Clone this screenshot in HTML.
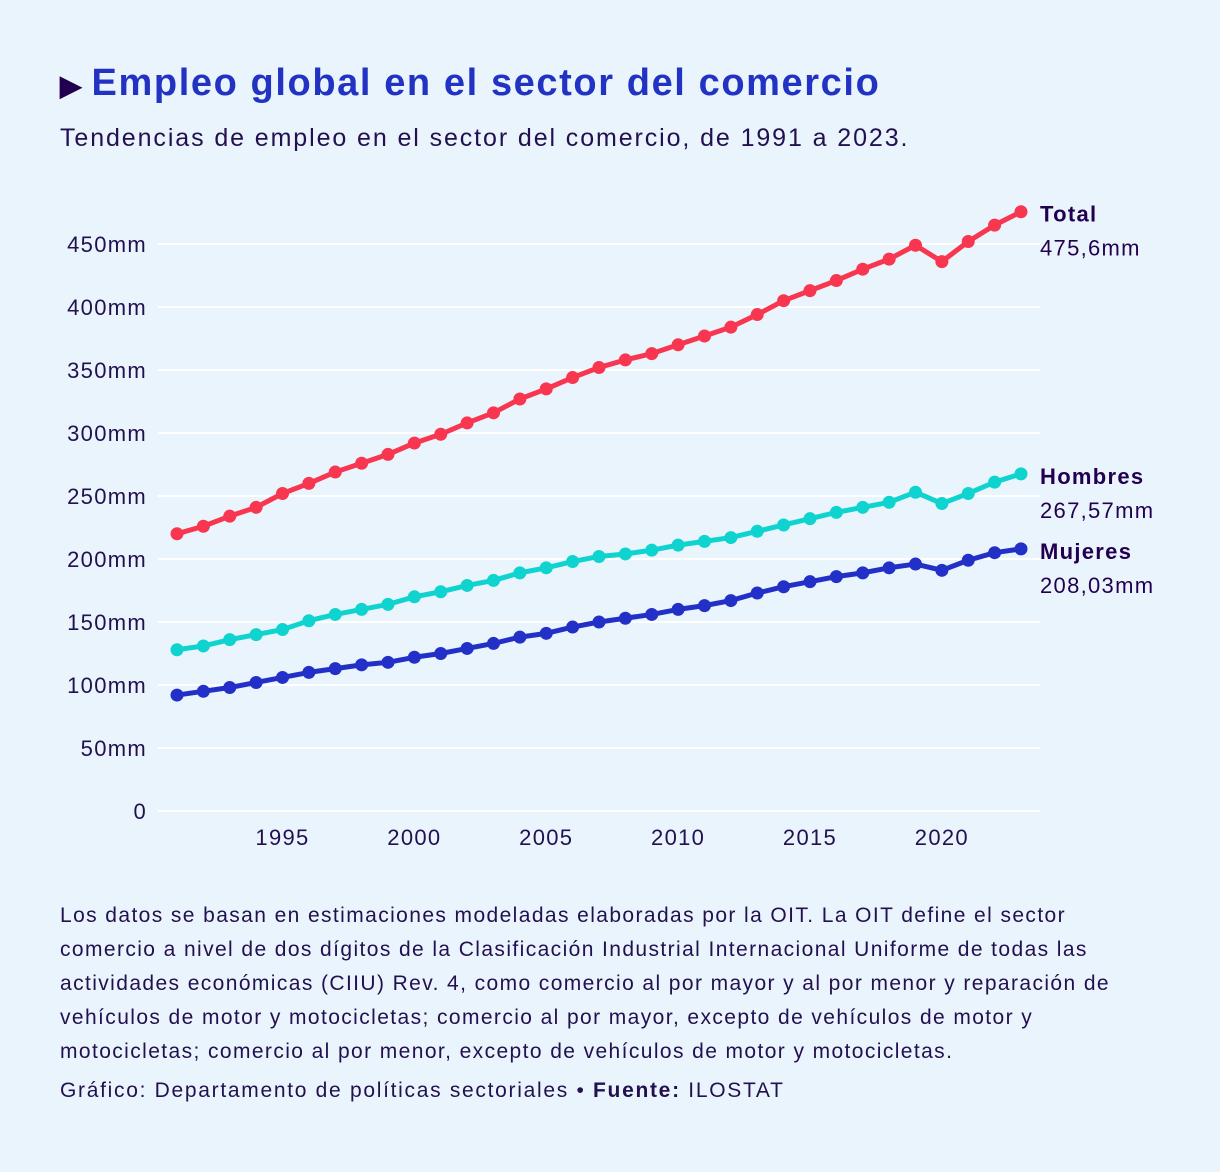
<!DOCTYPE html>
<html><head><meta charset="utf-8"><style>
body{margin:0;background:#eaf4fd;font-family:"Liberation Sans",sans-serif;color:#22104f}
#wrap{position:relative;width:1220px;height:1172px;overflow:hidden}
h1{position:absolute;left:60px;top:62px;margin:0;font-size:38px;font-weight:bold;color:#2233c4;letter-spacing:1.6px;white-space:nowrap}
h1 span{color:#22004f;font-size:28px;margin-right:10px;letter-spacing:0}
.sub{position:absolute;left:60px;top:124px;font-size:25px;letter-spacing:1.9px;white-space:nowrap}
.note{position:absolute;left:60px;top:899px;width:1085px;font-size:21px;line-height:34px;letter-spacing:1.4px}
.cred{position:absolute;left:60px;top:1079px;font-size:21px;letter-spacing:1.7px}
svg{position:absolute;left:0;top:0}
svg text{letter-spacing:1.3px}
</style></head><body><div id="wrap">
<h1><span>▶</span>Empleo global en el sector del comercio</h1>
<div class="sub">Tendencias de empleo en el sector del comercio, de 1991 a 2023.</div>
<svg id="c" width="1220" height="1172"></svg>
<div class="note">Los datos se basan en estimaciones modeladas elaboradas por la OIT. La OIT define el sector comercio a nivel de dos dígitos de la Clasificación Industrial Internacional Uniforme de todas las actividades económicas (CIIU) Rev. 4, como comercio al por mayor y al por menor y reparación de vehículos de motor y motocicletas; comercio al por mayor, excepto de vehículos de motor y motocicletas; comercio al por menor, excepto de vehículos de motor y motocicletas.</div>
<div class="cred">Gráfico: Departamento de políticas sectoriales • <b>Fuente:</b> ILOSTAT</div>
</div>
<script>
const years=[];for(let y=1991;y<=2023;y++)years.push(y);
const total=[220,226,234,241,252,260,269,276,283,292,299,308,316,327,335,344,352,358,363,370,377,384,394,405,413,421,430,438,449,436,452,465,475.6];
const hombres=[128,131,136,140,144,151,156,160,164,170,174,179,183,189,193,198,202,204,207,211,214,217,222,227,232,237,241,245,253,244,252,261,267.57];
const mujeres=[92,95,98,102,106,110,113,116,118,122,125,129,133,138,141,146,150,153,156,160,163,167,173,178,182,186,189,193,196,191,199,205,208.03];
const yTicks=[0,50,100,150,200,250,300,350,400,450];
const yTickLabels=["0","50mm","100mm","150mm","200mm","250mm","300mm","350mm","400mm","450mm"];
const xTicks=[1995,2000,2005,2010,2015,2020];
const seriesNames=["Total","Hombres","Mujeres"];
const seriesLabels=["475,6mm","267,57mm","208,03mm"];
const NS="http://www.w3.org/2000/svg",svg=document.getElementById('c');
const x=v=>177+(v-1991)*(1021-177)/32, y=v=>811-v*1.26;
function el(t,a,p){const e=document.createElementNS(NS,t);for(const k in a)e.setAttribute(k,a[k]);(p||svg).appendChild(e);return e;}
yTicks.forEach((t,i)=>{
 const g=el('line',{x1:158,x2:1040,y1:y(t),y2:y(t),stroke:'#fff','stroke-width':2});
 
 const l=el('text',{x:147,y:y(t)+8,'text-anchor':'end','font-size':22,fill:'#22104f'});l.textContent=yTickLabels[i];
 
});
xTicks.forEach(t=>{const l=el('text',{x:x(t),y:845,'text-anchor':'middle','font-size':22,fill:'#22104f'});l.textContent=t;
 });
const cols=['#f8364f','#0fd3cf','#2230c8'];
[total,hombres,mujeres].forEach((s,i)=>{
 const g=el('g',{});
 const p=el('path',{d:s.map((v,j)=>(j?'L':'M')+x(years[j])+','+y(v)).join(''),fill:'none',stroke:cols[i],'stroke-width':5,'stroke-linejoin':'round'},g);
 
 s.forEach((v,j)=>{const c=el('circle',{cx:x(years[j]),cy:y(v),r:6.5,fill:cols[i]},g);
  });
 const ly=y(s[s.length-1]);
 const a=el('text',{x:1040,y:ly+10,'font-size':22,'font-weight':'bold',fill:'#22004f'});a.textContent=seriesNames[i];
 
 const b=el('text',{x:1040,y:ly+44,'font-size':22,fill:'#22004f'});b.textContent=seriesLabels[i];
 
});
</script></body></html>
